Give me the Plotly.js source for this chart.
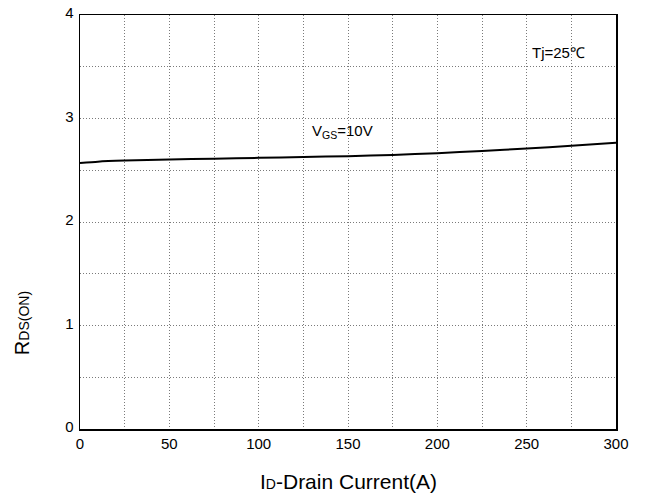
<!DOCTYPE html>
<html>
<head>
<meta charset="utf-8">
<script src="https://cdn.plot.ly/plotly-3.0.1.min.js"></script>
<style>html,body{margin:0;padding:0;background:#fff;}#chart{width:645px;height:495px;}</style>
</head>
<body>
<div id="chart"></div>
<script>
var drainCurrent = [0, 10, 25, 50, 75, 100, 125, 150, 175, 200, 225, 250, 275, 300];
var rdsOn = [2.57, 2.583, 2.593, 2.604, 2.612, 2.62, 2.628, 2.636, 2.648, 2.665, 2.686, 2.71, 2.737, 2.766];
var xTickVals = [0, 25, 50, 75, 100, 125, 150, 175, 200, 225, 250, 275, 300];
var xTickText = ['0', '', '50', '', '100', '', '150', '', '200', '', '250', '', '300'];
var yTickVals = [0, 0.5, 1, 1.5, 2, 2.5, 3, 3.5, 4];
var yTickText = ['0', '', '1', '', '2', '', '3', '', '4'];

var font = 'Liberation Sans, Arial, sans-serif';
var trace = {
  x: drainCurrent, y: rdsOn, type: 'scatter', mode: 'lines',
  line: {color: '#000', width: 2, shape: 'spline', smoothing: 0.6}, hoverinfo: 'none'
};
var axisCommon = {
  showline: true, linecolor: '#000', linewidth: 1.5, mirror: true,
  showgrid: true, gridcolor: '#7a7a7a', griddash: '1px,2px', gridwidth: 1,
  zeroline: false, ticks: '', tickfont: {family: font, size: 15, color: '#000'}
};
var layout = {
  width: 645, height: 495,
  margin: {l: 80, r: 29, t: 15, b: 66},
  paper_bgcolor: '#fff', plot_bgcolor: '#fff',
  showlegend: false,
  xaxis: Object.assign({}, axisCommon, {range: [0, 300], tickmode: 'array', tickvals: xTickVals, ticktext: xTickText, ticklabelstandoff: 0}),
  yaxis: Object.assign({}, axisCommon, {range: [0, 4], tickmode: 'array', tickvals: yTickVals, ticktext: yTickText, ticklabelstandoff: 2, ticklabelshift: -2}),
  annotations: [
    {x: 268, y: 3.64, xref: 'x', yref: 'y', text: 'Tj=25℃', showarrow: false, font: {family: font, size: 15, color: '#000'}},
    {x: 147, y: 2.87, xref: 'x', yref: 'y', text: 'V<sub>GS</sub>=10V', showarrow: false, font: {family: font, size: 15, color: '#000'}},
    {x: 0.5, y: -0.126, xref: 'paper', yref: 'paper', yanchor: 'middle', text: "I<span style='font-size:14px'>D</span>-Drain Current(A)", showarrow: false, font: {family: font, size: 21, color: '#000'}},
    {x: -0.108, y: 0.256, xref: 'paper', yref: 'paper', xanchor: 'center', yanchor: 'middle', textangle: -90, text: "R<span style='font-size:14px'>DS(ON)</span>", showarrow: false, font: {family: font, size: 20, color: '#000'}}
  ]
};
Plotly.newPlot('chart', [trace], layout, {displayModeBar: false, staticPlot: true});
</script>
</body>
</html>
